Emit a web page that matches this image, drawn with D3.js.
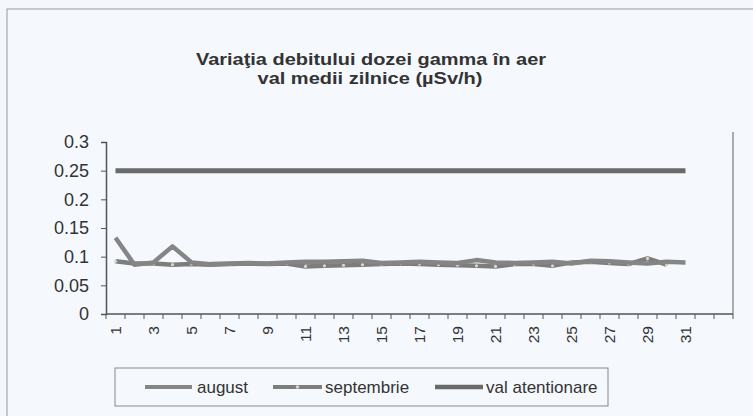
<!DOCTYPE html>
<html><head><meta charset="utf-8">
<script src="https://cdn.jsdelivr.net/npm/d3@7"></script>
<style>
html,body{margin:0;padding:0;background:#f4f7fb;}
svg{display:block;font-family:"Liberation Sans",Arial,sans-serif;}
</style></head>
<body>
<svg id="chart" width="753" height="416"></svg>
<script>
const titleLines = ["Variaţia debitului dozei gamma în aer", "val medii zilnice (µSv/h)"];
const categories = ["1","2","3","4","5","6","7","8","9","10","11","12","13","14","15","16","17","18","19","20","21","22","23","24","25","26","27","28","29","30","31","32","33"];
const tickLabels = ["1","3","5","7","9","11","13","15","17","19","21","23","25","27","29","31"];
const august = [0.133,0.086,0.090,0.118,0.090,0.087,0.088,0.089,0.088,0.090,0.091,0.091,0.092,0.093,0.089,0.090,0.091,0.090,0.089,0.094,0.090,0.089,0.090,0.091,0.088,0.093,0.092,0.090,0.088,0.091,0.090];
const septembrie = [0.092,0.088,0.088,0.086,0.087,0.086,0.087,0.088,0.087,0.088,0.083,0.084,0.085,0.086,0.087,0.088,0.087,0.086,0.085,0.084,0.083,0.087,0.087,0.084,0.090,0.091,0.089,0.087,0.097,0.086];
const valAtentionare = [0.25,0.25,0.25,0.25,0.25,0.25,0.25,0.25,0.25,0.25,0.25,0.25,0.25,0.25,0.25,0.25,0.25,0.25,0.25,0.25,0.25,0.25,0.25,0.25,0.25,0.25,0.25,0.25,0.25,0.25,0.25];
const yTicks = [0,0.05,0.1,0.15,0.2,0.25,0.3];
const seriesNames = ["august","septembrie","val atentionare"];

(function(){
const svg = d3.select("#chart");
svg.append("rect").attr("x",7).attr("y",9).attr("width",760).attr("height",420)
  .attr("fill","#f5f8fc").attr("stroke","#9a9a9a").attr("stroke-width",1);

svg.append("text").attr("x",371).attr("y",65).attr("text-anchor","middle")
  .attr("font-size",16).attr("font-weight","bold").attr("fill","#333")
  .attr("textLength",350).attr("lengthAdjust","spacingAndGlyphs").text(titleLines[0]);
svg.append("text").attr("x",370).attr("y",84).attr("text-anchor","middle")
  .attr("font-size",16).attr("font-weight","bold").attr("fill","#333")
  .attr("textLength",225).attr("lengthAdjust","spacingAndGlyphs").text(titleLines[1]);

const pL = 106, pR = 733, pT = 142, pB = 314;
const x = d3.scaleBand().domain(categories).range([pL,pR]).padding(0);
const y = d3.scaleLinear().domain([0,0.3]).range([pB,pT]);

svg.append("line").attr("x1",pR).attr("x2",pR).attr("y1",pT-10).attr("y2",pB)
  .attr("stroke","#777").attr("stroke-width",1.2);

const yAxis = svg.append("g").attr("transform",`translate(${pL},0)`)
  .call(d3.axisLeft(y).tickValues(yTicks).tickSize(5).tickPadding(12).tickFormat(d=>String(+d.toFixed(2))));
yAxis.select(".domain").attr("stroke","#555").attr("stroke-width",1.5);
yAxis.selectAll(".tick line").attr("stroke","#555");
yAxis.selectAll("text").attr("font-size",18).attr("fill","#333").attr("font-family","Liberation Sans, Arial, sans-serif");

const xg = svg.append("g");
xg.append("line").attr("x1",pL).attr("x2",pR).attr("y1",pB).attr("y2",pB)
  .attr("stroke","#555").attr("stroke-width",1.5);
const boundaries = categories.map(c=>x(c)).concat([x(categories[categories.length-1])+x.bandwidth()]);
xg.selectAll(".xt").data(boundaries).enter().append("line")
  .attr("x1",d=>d).attr("x2",d=>d).attr("y1",pB).attr("y2",pB+5)
  .attr("stroke","#555").attr("stroke-width",1);
xg.selectAll(".xl").data(tickLabels).enter().append("text")
  .attr("transform",d=>`translate(${x(d)+x.bandwidth()/2+5.5},326) rotate(-90)`)
  .attr("text-anchor","end").attr("font-size",15.5).attr("fill","#333").text(d=>d);

const line = d3.line().x((d,i)=>x(categories[i])+x.bandwidth()/2).y(d=>y(d));
svg.append("path").datum(valAtentionare).attr("d",line).attr("fill","none")
  .attr("stroke","#6a6a6a").attr("stroke-width",5);
svg.append("path").datum(septembrie).attr("d",line).attr("fill","none")
  .attr("stroke","#7d7d7d").attr("stroke-width",4.5).attr("stroke-linejoin","round");
svg.selectAll(".sm").data(septembrie).enter().append("circle")
  .attr("cx",(d,i)=>x(categories[i])+x.bandwidth()/2).attr("cy",d=>y(d)).attr("r",1.6)
  .attr("fill","#d8d8d8").attr("stroke","none");
svg.append("path").datum(august).attr("d",line).attr("fill","none")
  .attr("stroke","#858585").attr("stroke-width",4.5).attr("stroke-linejoin","round");

svg.append("rect").attr("x",115).attr("y",368).attr("width",493).attr("height",38)
  .attr("fill","none").attr("stroke","#888").attr("stroke-width",1);
const legItems = [
  {name:seriesNames[0], x1:145, x2:192, tx:197, color:"#858585", w:4, marker:false},
  {name:seriesNames[1], x1:273, x2:322, tx:325, color:"#7d7d7d", w:4, marker:true},
  {name:seriesNames[2], x1:435, x2:483, tx:486, color:"#6a6a6a", w:4.5, marker:false}
];
legItems.forEach(it=>{
  svg.append("line").attr("x1",it.x1).attr("x2",it.x2).attr("y1",387).attr("y2",387)
    .attr("stroke",it.color).attr("stroke-width",it.w);
  if(it.marker) svg.append("circle").attr("cx",(it.x1+it.x2)/2).attr("cy",387).attr("r",1.8).attr("fill","#d8d8d8");
  svg.append("text").attr("x",it.tx).attr("y",393).attr("font-size",17).attr("fill","#333").text(it.name);
});
})();
</script>
</body></html>
